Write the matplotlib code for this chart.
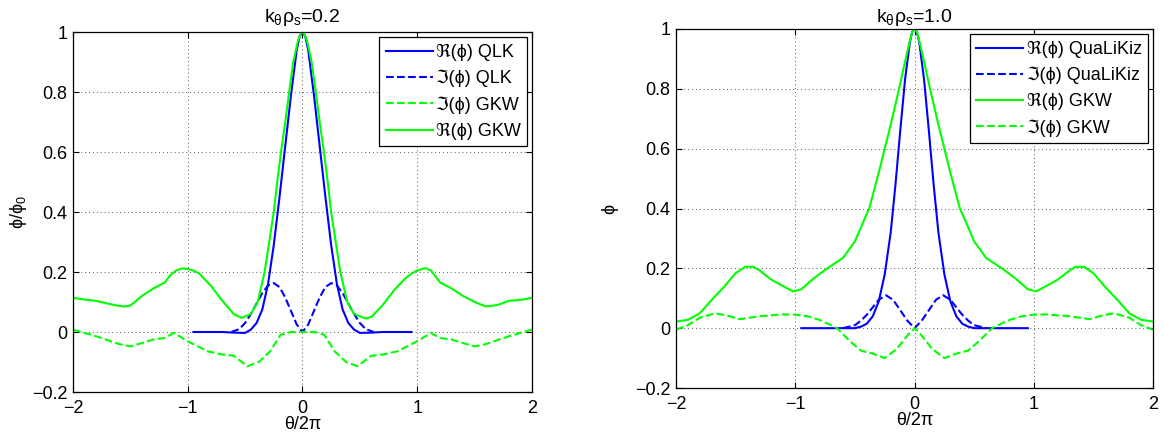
import numpy as np
import matplotlib
matplotlib.use("Agg")
import matplotlib.pyplot as plt

plt.rcParams['font.family'] = ['Liberation Sans', 'DejaVu Sans']
plt.rcParams['mathtext.fontset'] = 'custom'
plt.rcParams['mathtext.rm'] = 'Liberation Sans'
plt.rcParams['mathtext.it'] = 'Liberation Sans'
plt.rcParams['mathtext.fallback'] = 'stixsans'
plt.rcParams['font.size'] = 13

# ---- k_theta rho_s = 0.2 (left panel) ----
qlk_re_x = [-0.95, -0.8, -0.7, -0.6, -0.5, -0.45, -0.4, -0.35, -0.3, -0.25, -0.2, -0.15, -0.1, -0.05, -0.025,
            0.0, 0.025, 0.05, 0.1, 0.15, 0.2, 0.25, 0.3, 0.35, 0.4, 0.45, 0.5, 0.6, 0.7, 0.8, 0.95]
qlk_re_y = [0.0, 0.0, 0.0, -0.002, -0.003, 0.008, 0.03, 0.075, 0.16, 0.29, 0.45, 0.62, 0.79, 0.94, 0.985,
            1.0, 0.985, 0.94, 0.79, 0.62, 0.45, 0.29, 0.16, 0.075, 0.03, 0.008, -0.003, -0.002, 0.0, 0.0, 0.0]

qlk_im_x = [-0.62, -0.55, -0.5, -0.45, -0.4, -0.35, -0.3, -0.25, -0.2, -0.15, -0.1, -0.05, 0.0,
            0.05, 0.1, 0.15, 0.2, 0.25, 0.3, 0.35, 0.4, 0.45, 0.5, 0.55, 0.62]
qlk_im_y = [0.0, 0.01, 0.03, 0.06, 0.095, 0.13, 0.155, 0.163, 0.15, 0.115, 0.07, 0.025, 0.0,
            0.025, 0.07, 0.115, 0.15, 0.163, 0.155, 0.13, 0.095, 0.06, 0.03, 0.01, 0.0]

gkw_im_x02 = [-2.0, -1.8, -1.6, -1.5, -1.4, -1.3, -1.2, -1.12, -1.0, -0.9, -0.83, -0.7, -0.6, -0.48, -0.38,
              -0.28, -0.19, -0.1, 0.0, 0.1, 0.19, 0.28, 0.38, 0.48, 0.6, 0.7, 0.83, 0.9, 1.0, 1.12, 1.2,
              1.3, 1.4, 1.5, 1.6, 1.8, 2.0]
gkw_im_y02 = [0.008, -0.014, -0.04, -0.048, -0.037, -0.025, -0.02, -0.003, -0.031, -0.05, -0.064, -0.075,
              -0.079, -0.114, -0.1, -0.064, -0.009, 0.0, 0.0, 0.0, -0.009, -0.064, -0.1, -0.114, -0.079,
              -0.075, -0.064, -0.05, -0.031, -0.003, -0.02, -0.025, -0.037, -0.048, -0.04, -0.014, 0.008]

gkw_re_x02 = [-2.0, -1.9, -1.8, -1.7, -1.6, -1.55, -1.5, -1.4, -1.3, -1.2, -1.15, -1.1, -1.05, -1.0, -0.95,
              -0.9, -0.8, -0.7, -0.6, -0.53, -0.45, -0.39, -0.33, -0.29, -0.25, -0.22, -0.187, -0.15,
              -0.116, -0.08, -0.04, -0.02, 0.0, 0.02, 0.04, 0.08, 0.116, 0.15, 0.187, 0.22, 0.25, 0.29,
              0.33, 0.39, 0.45, 0.55, 0.6, 0.7, 0.8, 0.9, 0.95, 1.0, 1.07, 1.12, 1.2, 1.3, 1.4, 1.5, 1.6,
              1.7, 1.8, 1.9, 2.0]
gkw_re_y02 = [0.114, 0.108, 0.104, 0.095, 0.087, 0.085, 0.088, 0.12, 0.145, 0.165, 0.19, 0.205, 0.212, 0.21,
              0.205, 0.195, 0.155, 0.105, 0.06, 0.047, 0.06, 0.1, 0.2, 0.3, 0.4, 0.5, 0.6, 0.7, 0.8, 0.9,
              0.97, 0.99, 1.0, 0.99, 0.97, 0.9, 0.8, 0.7, 0.6, 0.5, 0.4, 0.3, 0.2, 0.1, 0.06, 0.045, 0.05,
              0.09, 0.14, 0.18, 0.195, 0.205, 0.213, 0.205, 0.165, 0.145, 0.12, 0.1, 0.085, 0.09, 0.104,
              0.107, 0.114]

# ---- k_theta rho_s = 1.0 (right panel) ----
qlz_re_x = [-0.95, -0.8, -0.6, -0.5, -0.45, -0.4, -0.35, -0.3, -0.25, -0.2, -0.16, -0.12, -0.08, -0.04, -0.02,
            0.0, 0.02, 0.04, 0.08, 0.12, 0.16, 0.2, 0.25, 0.3, 0.35, 0.4, 0.45, 0.5, 0.6, 0.8, 0.95]
qlz_re_y = [0.0, 0.0, 0.0, 0.0, 0.005, 0.015, 0.04, 0.09, 0.18, 0.32, 0.48, 0.66, 0.83, 0.955, 0.99,
            1.0, 0.99, 0.955, 0.83, 0.66, 0.48, 0.32, 0.18, 0.09, 0.04, 0.015, 0.005, 0.0, 0.0, 0.0, 0.0]

qlz_im_x = [-0.6, -0.5, -0.45, -0.4, -0.35, -0.3, -0.24, -0.18, -0.12, -0.06, 0.0,
            0.06, 0.12, 0.18, 0.24, 0.3, 0.35, 0.4, 0.45, 0.5, 0.6]
qlz_im_y = [0.0, 0.01, 0.025, 0.045, 0.07, 0.095, 0.11, 0.095, 0.06, 0.025, 0.0,
            0.025, 0.06, 0.095, 0.11, 0.095, 0.07, 0.045, 0.025, 0.01, 0.0]

gkw_re_x10 = [-2.0, -1.9, -1.8, -1.7, -1.6, -1.5, -1.42, -1.35, -1.3, -1.2, -1.1, -1.02, -0.95, -0.85, -0.75,
              -0.6, -0.5, -0.41, -0.38, -0.3, -0.25, -0.2, -0.13, -0.08, -0.04, -0.02, 0.0, 0.02, 0.04,
              0.08, 0.13, 0.2, 0.25, 0.3, 0.38, 0.41, 0.5, 0.6, 0.75, 0.85, 0.95, 1.02, 1.1, 1.2, 1.3,
              1.35, 1.42, 1.5, 1.6, 1.7, 1.8, 1.9, 2.0]
gkw_re_y10 = [0.022, 0.028, 0.05, 0.095, 0.137, 0.184, 0.205, 0.205, 0.193, 0.162, 0.14, 0.123, 0.13, 0.165,
              0.195, 0.235, 0.29, 0.374, 0.4, 0.52, 0.6, 0.68, 0.8, 0.89, 0.96, 0.99, 1.0, 0.99, 0.96,
              0.89, 0.8, 0.68, 0.6, 0.52, 0.4, 0.374, 0.29, 0.235, 0.195, 0.165, 0.13, 0.123, 0.14, 0.162,
              0.193, 0.205, 0.205, 0.184, 0.137, 0.095, 0.05, 0.028, 0.022]

gkw_im_x10 = [-2.0, -1.9, -1.8, -1.67, -1.55, -1.47, -1.3, -1.1, -1.0, -0.9, -0.8, -0.7, -0.65, -0.55, -0.45,
              -0.35, -0.25, -0.15, -0.05, 0.0, 0.05, 0.15, 0.25, 0.35, 0.45, 0.55, 0.65, 0.7, 0.8, 0.9,
              1.0, 1.1, 1.3, 1.47, 1.55, 1.67, 1.8, 1.9, 2.0]
gkw_im_y10 = [-0.005, 0.01, 0.035, 0.05, 0.04, 0.03, 0.04, 0.046, 0.045, 0.04, 0.028, 0.01, 0.0, -0.04,
              -0.075, -0.085, -0.1, -0.07, -0.02, 0.0, -0.02, -0.07, -0.1, -0.085, -0.075, -0.04, 0.0,
              0.01, 0.028, 0.04, 0.045, 0.046, 0.04, 0.03, 0.04, 0.05, 0.035, 0.01, -0.005]

blue = (0, 0, 1)
green = (0, 1, 0)
lw = 1.5

fig = plt.figure(figsize=(11.64, 4.44), dpi=100)
ax1 = fig.add_axes([0.0627, 0.1171, 0.3943, 0.8108])
ax2 = fig.add_axes([0.5808, 0.1261, 0.4098, 0.8086])

ax1.plot(qlk_re_x, qlk_re_y, color=blue, lw=lw, label='ℜ(ϕ) QLK')
ax1.plot(qlk_im_x, qlk_im_y, color=blue, lw=lw, ls='--', label='ℑ(ϕ) QLK')
ax1.plot(gkw_im_x02, gkw_im_y02, color=green, lw=lw, ls='--', label='ℑ(ϕ) GKW')
ax1.plot(gkw_re_x02, gkw_re_y02, color=green, lw=lw, label='ℜ(ϕ) GKW')
ax1.set_title(r'k$_\mathrm{θ}$ρ$_\mathrm{s}$=0.2', fontsize=14, pad=7)
ax1.set_ylabel(r'ϕ/ϕ$_\mathrm{0}$', labelpad=2)

ax2.plot(qlz_re_x, qlz_re_y, color=blue, lw=lw, label='ℜ(ϕ) QuaLiKiz')
ax2.plot(qlz_im_x, qlz_im_y, color=blue, lw=lw, ls='--', label='ℑ(ϕ) QuaLiKiz')
ax2.plot(gkw_re_x10, gkw_re_y10, color=green, lw=lw, label='ℜ(ϕ) GKW')
ax2.plot(gkw_im_x10, gkw_im_y10, color=green, lw=lw, ls='--', label='ℑ(ϕ) GKW')
ax2.set_title(r'k$_\mathrm{θ}$ρ$_\mathrm{s}$=1.0', fontsize=14, pad=5)
ax2.set_ylabel('ϕ', labelpad=12)

for ax in (ax1, ax2):
    ax.set_xlim(-2, 2)
    ax.set_ylim(-0.2, 1)
    ax.set_xticks([-2, -1, 0, 1, 2])
    ax.set_yticks([-0.2, 0, 0.2, 0.4, 0.6, 0.8, 1])
    ax.set_yticklabels(['\u22120.2', '0', '0.2', '0.4', '0.6', '0.8', '1'])
    ax.set_xticklabels(['\u22122', '\u22121', '0', '1', '2'])
    ax.tick_params(direction='in', top=True, right=True, length=4, width=0.8, labelsize=13)
    ax.tick_params(axis='x', pad=6)
    ax.tick_params(axis='y', pad=4)
    ax.grid(True, ls=(0, (1, 3)), color='0.35', lw=0.7)
    ax.set_xlabel('θ/2π', labelpad=-1)
    for s in ax.spines.values():
        s.set_linewidth(0.9)
    leg = ax.legend(loc='upper right', bbox_to_anchor=(0.99, 0.985), fancybox=False, framealpha=1,
                    edgecolor='black', fontsize=13, handlelength=2.6, handletextpad=0.2,
                    borderpad=0.35, labelspacing=0.5, borderaxespad=0)
    leg.get_frame().set_linewidth(0.9)

fig.savefig('out.png', dpi=100)
